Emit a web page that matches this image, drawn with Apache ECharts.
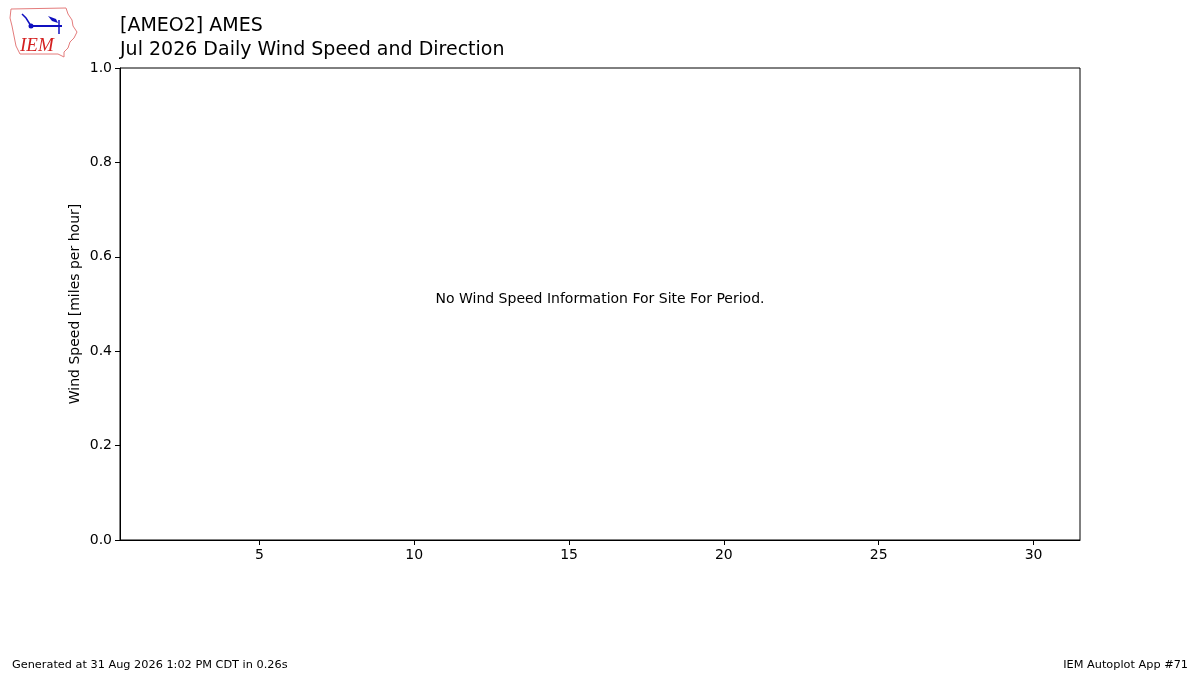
<!DOCTYPE html>
<html>
<head>
<meta charset="utf-8">
<script src="https://cdn.jsdelivr.net/npm/echarts@6/dist/echarts.min.js"></script>
<style>
  html, body { margin: 0; padding: 0; background: #fff; }
  #chart { width: 1200px; height: 675px; }
</style>
</head>
<body>
<div id="chart"></div>
<script>
// days of July with wind observations (none for this site / period)
const days = [];
const windSpeed = [];
const dayTicks = [5, 10, 15, 20, 25, 30];
const speedTicks = [0, 0.2, 0.4, 0.6, 0.8, 1.0];

const font = "DejaVu Sans";

const chart = echarts.init(document.getElementById("chart"));
chart.setOption({
    animation: false,
    backgroundColor: "#ffffff",
    textStyle: { fontFamily: font },
    grid: {
        left: 120,
        right: 120,
        top: 68,
        bottom: 135,
        show: true,
        borderColor: "#000000",
        borderWidth: 1,
        containLabel: false
    },
    xAxis: {
        type: "value",
        min: 0.5,
        max: 31.5,
        splitLine: { show: false },
        axisLine: { show: true, lineStyle: { color: "#000", width: 1 } },
        axisTick: {
            show: true,
            length: 5,
            customValues: dayTicks,
            lineStyle: { color: "#000" }
        },
        axisLabel: {
            customValues: dayTicks,
            color: "#000",
            fontSize: 14,
            fontFamily: font,
            margin: 8
        }
    },
    yAxis: {
        type: "value",
        min: speedTicks[0],
        max: speedTicks[speedTicks.length - 1],
        interval: 0.2,
        name: "Wind Speed [miles per hour]",
        nameLocation: "middle",
        nameGap: 38,
        nameMoveOverlap: false,
        nameTextStyle: { color: "#000", fontSize: 14, fontFamily: font },
        splitLine: { show: false },
        axisLine: { show: true, lineStyle: { color: "#000", width: 1 } },
        axisTick: { show: true, length: 5, lineStyle: { color: "#000" } },
        axisLabel: {
            color: "#000",
            fontSize: 14,
            fontFamily: font,
            margin: 8,
            formatter: v => v.toFixed(1)
        }
    },
    series: [
        {
            name: "Wind Speed",
            type: "bar",
            data: days.map((d, i) => [d, windSpeed[i]]),
            itemStyle: { color: "#1f77b4" }
        }
    ],
    graphic: [
        {
            type: "text",
            left: 120,
            top: 14,
            style: {
                text: "[AMEO2] AMES\nJul 2026 Daily Wind Speed and Direction",
                fill: "#000",
                font: "19px DejaVu Sans",
                lineHeight: 24
            }
        },
        {
            type: "text",
            x: 600,
            y: 299,
            style: {
                text: "No Wind Speed Information For Site For Period.",
                fill: "#000",
                font: "14px DejaVu Sans",
                align: "center",
                verticalAlign: "middle"
            }
        },
        {
            type: "text",
            left: 12,
            top: 660,
            style: { text: "Generated at 31 Aug 2026 1:02 PM CDT in 0.26s", fill: "#000", font: "11.3px DejaVu Sans" }
        },
        {
            type: "text",
            right: 12,
            top: 660,
            style: { text: "IEM Autoplot App #71", fill: "#000", font: "11.3px DejaVu Sans", align: "right" }
        },
        // IEM logo (rough sketch)
        {
            type: "group",
            children: [
                {
                    type: "polyline",
                    shape: {
                        points: [[11, 9], [66, 8], [68, 14], [72, 20], [73, 26], [77, 32], [74, 38], [70, 42],
                                 [68, 48], [64, 52], [64, 57], [58, 54], [20, 54], [16, 46], [14, 36], [12, 26],
                                 [10, 18], [11, 9]]
                    },
                    style: { stroke: "#e47c7c", lineWidth: 1, fill: "none" }
                },
                {
                    type: "line",
                    shape: { x1: 31, y1: 26, x2: 62, y2: 26 },
                    style: { stroke: "#1010c0", lineWidth: 2 }
                },
                {
                    type: "circle",
                    shape: { cx: 31, cy: 26, r: 2.5 },
                    style: { fill: "#1010c0" }
                },
                {
                    type: "polyline",
                    shape: { points: [[31, 26], [26, 18], [22, 14]] },
                    style: { stroke: "#1010c0", lineWidth: 1.5, fill: "none" }
                },
                {
                    type: "polygon",
                    shape: { points: [[48, 16], [56, 19], [58, 23], [52, 21]] },
                    style: { fill: "#1010c0" }
                },
                {
                    type: "line",
                    shape: { x1: 59, y1: 20, x2: 59, y2: 34 },
                    style: { stroke: "#1010c0", lineWidth: 1.5 }
                },
                {
                    type: "text",
                    x: 20,
                    y: 36,
                    style: { text: "IEM", fill: "#d42020", font: "italic 19px 'Liberation Serif'" }
                }
            ]
        }
    ]
});
</script>
</body>
</html>
